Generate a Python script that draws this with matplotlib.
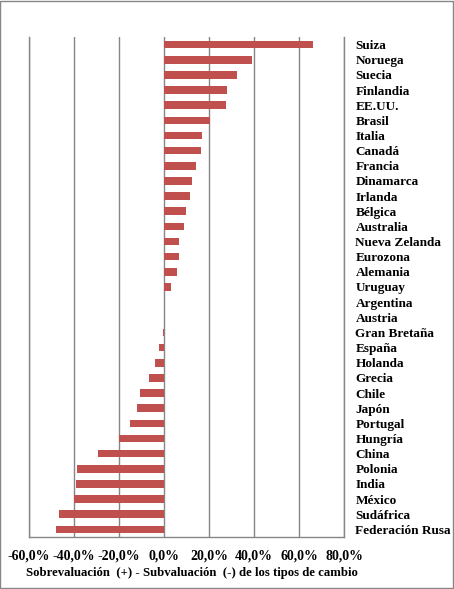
import matplotlib.pyplot as plt
from matplotlib.patches import Rectangle

# paises y sobre/subvaluacion en %
paises = ["Suiza", "Noruega", "Suecia", "Finlandia", "EE.UU.", "Brasil", "Italia",
          "Canadá", "Francia", "Dinamarca", "Irlanda", "Bélgica", "Australia",
          "Nueva Zelanda", "Eurozona", "Alemania", "Uruguay", "Argentina", "Austria",
          "Gran Bretaña", "España", "Holanda", "Grecia", "Chile", "Japón", "Portugal",
          "Hungría", "China", "Polonia", "India", "México", "Sudáfrica", "Federación Rusa"]
valores = [66.3, 39.2, 32.3, 27.8, 27.4, 20.6, 16.7, 16.3, 14.1, 12.3, 11.4, 9.9, 8.7,
           6.5, 6.5, 5.6, 3.0, 0.0, 0.0, -0.6, -2.4, -4.1, -6.8, -10.8, -12.1, -15.2,
           -20.0, -29.4, -38.6, -39.2, -39.9, -46.6, -48.1]
ticks = [-60, -40, -20, 0, 20, 40, 60, 80]
tick_labels = ["-60,0%", "-40,0%", "-20,0%", "0,0%", "20,0%", "40,0%", "60,0%", "80,0%"]

plt.rcParams["font.family"] = ["Liberation Serif", "DejaVu Serif"]
plt.rcParams["font.weight"] = "bold"

fig = plt.figure(figsize=(4.54, 5.89), dpi=100)
ax = fig.add_axes([0.0632, 0.0883, 0.6952, 0.8489])

pos = list(range(len(paises)))
ax.barh(pos, valores, height=0.5, color="#C0504D", zorder=3)
ax.set_ylim(len(paises) - 0.5, -0.5)
ax.set_xlim(-60, 80)

ax.set_xticks(ticks)
ax.set_xticklabels(tick_labels, fontsize=10, fontweight="bold")
ax.tick_params(axis="x", length=0, pad=9)
ax.grid(axis="x", color="#868686", linewidth=1, zorder=0)

ax.yaxis.tick_right()
ax.set_yticks(pos)
ax.set_yticklabels(paises, fontsize=9.5, fontweight="bold")
ax.tick_params(axis="y", length=0, pad=8)

ax.spines["top"].set_visible(False)
for s in ["left", "right", "bottom"]:
    ax.spines[s].set_color("#868686")
    ax.spines[s].set_linewidth(1)

fig.text(192 / 454, 1 - 573 / 589, "Sobrevaluación  (+) - Subvaluación  (-) de los tipos de cambio",
         ha="center", va="center", fontsize=9.2, fontweight="bold")

fig.patches.append(Rectangle((0.001, 0.001), 0.997, 0.997, transform=fig.transFigure,
                             fill=False, edgecolor="#868686", linewidth=1))

fig.savefig("out.png", dpi=100)
